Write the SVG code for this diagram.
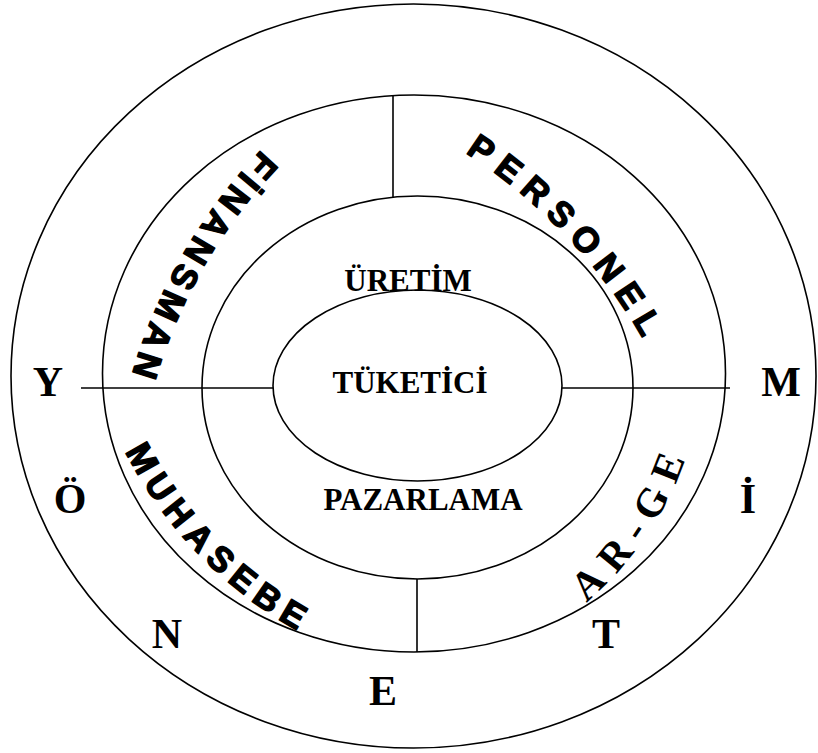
<svg xmlns="http://www.w3.org/2000/svg" width="818" height="753" viewBox="0 0 818 753">
<style>
.ring{fill:none;stroke:#000;stroke-width:1.6}
.ln{stroke:#000;stroke-width:1.6;fill:none}
.big{font-family:"Liberation Serif","Times New Roman",serif;font-weight:bold;font-size:42px;fill:#000;text-anchor:middle}
.mid{font-family:"Liberation Serif","Times New Roman",serif;font-weight:bold;font-size:31px;fill:#000;text-anchor:middle}
.arc{font-family:"Liberation Sans",Arial,sans-serif;font-weight:bold;font-size:35px;fill:#000;stroke:#000;stroke-width:1.4;stroke-linejoin:round;text-anchor:middle;dominant-baseline:central}
.arcs{font-family:"Liberation Serif","Times New Roman",serif;font-weight:bold;font-size:41px;fill:#000;text-anchor:middle;dominant-baseline:central}
</style>
<defs>
<path id="pFin" d="M 316.9 115.7 A 533 533 0 0 0 130.7 439.4"/>
<path id="pPer" d="M 414.6 109.6 A 555.6 555.6 0 0 1 683.5 390.9"/>
<path id="pMuh" d="M 118.4 404.1 A 418 418 0 0 0 344.9 639.5"/>
<path id="pArge" d="M 542.4 617.5 A 323.6 323.6 0 0 0 683.8 414.1"/>
</defs>
<rect width="818" height="753" fill="#fff"/>
<g id="yonetim">
<ellipse class="ring" cx="413.5" cy="376" rx="402.5" ry="372"/>
<text class="big" x="48" y="396">Y</text>
<text class="big" x="70" y="513">Ö</text>
<text class="big" x="167" y="648">N</text>
<text class="big" x="383" y="705">E</text>
<text class="big" x="606" y="648">T</text>
<text class="big" x="748" y="513">İ</text>
<text class="big" x="781" y="396">M</text>
</g>
<g id="destek">
<ellipse class="ring" cx="414" cy="373.5" rx="311.5" ry="278.5"/>
</g>
<g id="fonksiyon">
<ellipse class="ring" cx="417.5" cy="387.5" rx="215.5" ry="191.5"/>
<text class="mid" x="408" y="291">ÜRETİM</text>
<text class="mid" x="423" y="510">PAZARLAMA</text>
</g>
<g id="tuketici">
<ellipse class="ring" cx="417.5" cy="385.5" rx="144.5" ry="95.5"/>
<text class="mid" x="410" y="393">TÜKETİCİ</text>
</g>
<g id="connectors">
<line class="ln" x1="81" y1="388" x2="273" y2="388"/>
<line class="ln" x1="562" y1="388" x2="730" y2="388"/>
<line class="ln" x1="393" y1="95" x2="393" y2="197"/>
<line class="ln" x1="417" y1="579" x2="417" y2="652"/>
</g>
<g id="finansman">
<text class="arc" letter-spacing="5.75"><textPath href="#pFin" startOffset="50.7%">FİNANSMAN</textPath></text>
</g>
<g id="personel">
<text class="arc" letter-spacing="10.3"><textPath href="#pPer" startOffset="51.3%">PERSONEL</textPath></text>
</g>
<g id="muhasebe">
<text class="arc" letter-spacing="6.4"><textPath href="#pMuh" startOffset="50.8%">MUHASEBE</textPath></text>
</g>
<g id="arge">
<text class="arcs" letter-spacing="9.4"><textPath href="#pArge" startOffset="51.9%">AR-GE</textPath></text>
</g>
</svg>
